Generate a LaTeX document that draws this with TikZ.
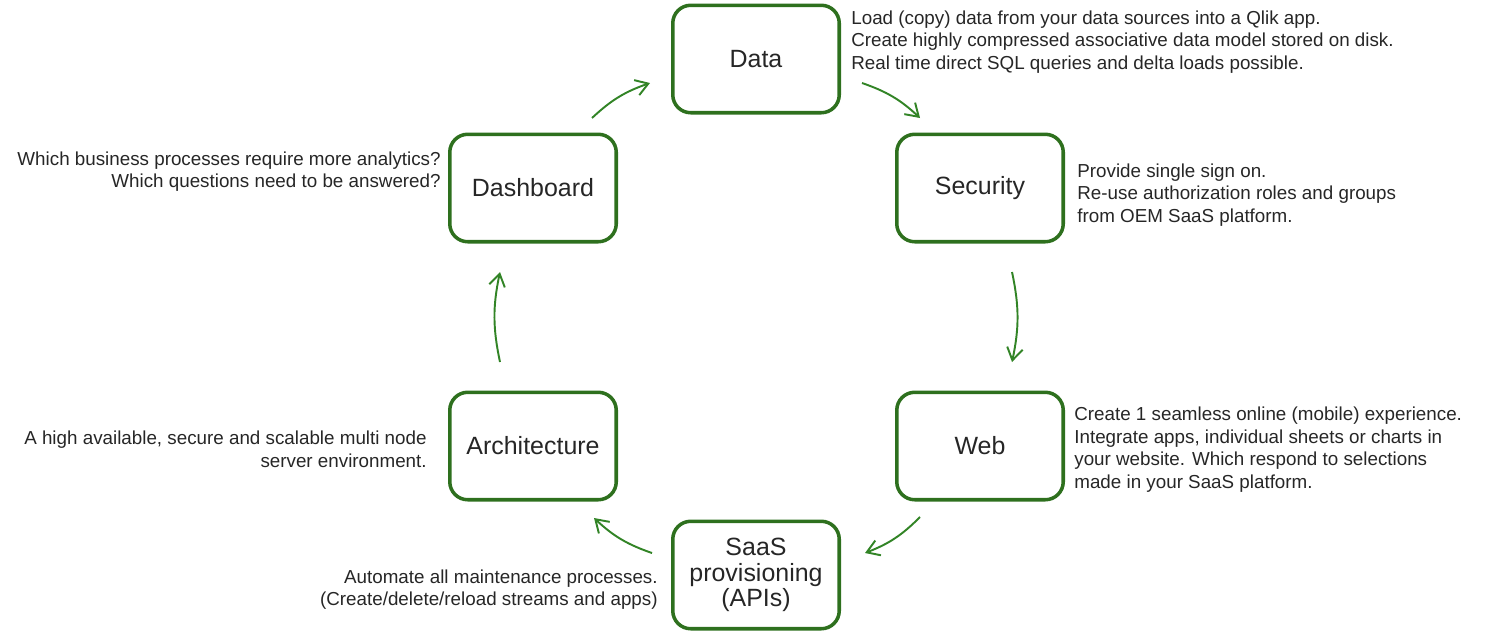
\documentclass[tikz,border=0pt]{standalone}
\usepackage{fontspec}
\setmainfont{Liberation Sans}
\usetikzlibrary{arrows.meta}
\definecolor{boxgreen}{RGB}{46,112,30}
\definecolor{arrowgreen}{RGB}{50,132,38}
\definecolor{txtgray}{RGB}{38,38,38}

\begin{document}
\begin{tikzpicture}[x=0.02cm, y=0.02cm,
    main/.style = {draw=boxgreen, line width=2pt, rounded corners=0.36cm, minimum width=3.33cm, minimum height=2.15cm, align=center, text=txtgray, font=\fontsize{14.2}{14.6}\selectfont},
    note/.style = {inner sep=0pt, text=txtgray, font=\fontsize{10.7}{12.9}\selectfont},
    arr/.style = {draw=arrowgreen, line width=1.1pt, -{Straight Barb[length=7pt,width=9pt]}, bend left=12}]
    \useasboundingbox (0,0) rectangle (1486,-633);

    \node[main] at (756,-59) (data) {Data};
    \node[main] at (980,-188) (security) {Security};
    \node[main] at (980,-446) (web) {Web};
    \node[main] at (756,-575) (saas) {SaaS\\provisioning\\(APIs)};
    \node[main] at (533,-446) (arch) {Architecture};
    \node[main] at (533,-188) (dash) {Dashboard};

    \node[note, anchor=west, align=left] at (851,-42) (datatxt) {Load (copy) data from your data sources into a Qlik app.\\Create highly compressed associative data model stored on disk.\\Real time direct SQL queries and delta loads possible.};
    \node[note, anchor=west, align=left] at (1077,-195) (sectxt) {Provide single sign on.\\Re-use authorization roles and groups\\from OEM SaaS platform.};
    \node[note, anchor=west, align=left] at (1074,-449.5) (webtxt) {Create 1 seamless online (mobile) experience.\\Integrate apps, individual sheets or charts in\\your website. Which respond to selections\\made in your SaaS platform.};
    \node[note, anchor=east, align=right] at (658,-589.5) (saastxt) {Automate all maintenance processes.\\(Create/delete/reload streams and apps)};
    \node[note, anchor=east, align=right] at (427,-449) (archtxt) {A high available, secure and scalable multi node\\server environment.};
    \node[note, anchor=east, align=right] at (441,-171.5) (dashtxt) {Which business processes require more analytics?\\Which questions need to be answered?};

    \coordinate (a1s) at (592,-118);
    \coordinate (a1e) at (650,-83);
    \coordinate (a2s) at (862,-83);
    \coordinate (a2e) at (920,-118);
    \coordinate (a3s) at (1012,-272);
    \coordinate (a3e) at (1012,-362);
    \coordinate (a4s) at (920,-517);
    \coordinate (a4e) at (865,-553);
    \coordinate (a5s) at (652,-553);
    \coordinate (a5e) at (594,-518);
    \coordinate (a6s) at (500,-362);
    \coordinate (a6e) at (500,-272);

    \path
    (a1s) edge[arr] (a1e)
    (a2s) edge[arr] (a2e)
    (a3s) edge[arr] (a3e)
    (a4s) edge[arr] (a4e)
    (a5s) edge[arr] (a5e)
    (a6s) edge[arr] (a6e)
    ;
\end{tikzpicture}
\end{document}
